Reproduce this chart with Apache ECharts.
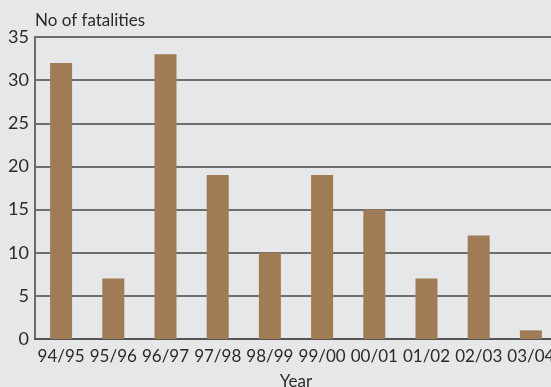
<!DOCTYPE html>
<html>
<head>
<meta charset="utf-8">
<script src="https://cdn.jsdelivr.net/npm/echarts@6/dist/echarts.min.js"></script>
<style>
  html, body { margin: 0; padding: 0; background: #e6e7e9; }
  #chart { width: 551px; height: 387px; }
</style>
</head>
<body>
<div id="chart"></div>
<script>
// Fatalities per financial year
const years = ['94/95', '95/96', '96/97', '97/98', '98/99', '99/00', '00/01', '01/02', '02/03', '03/04'];
const fatalities = [32, 7, 33, 19, 10, 19, 15, 7, 12, 1];
const yTicks = { min: 0, max: 35, interval: 5 };

const font = 'Lato, "Open Sans", sans-serif';
const textColor = '#2a2a2c';

const chart = echarts.init(document.getElementById('chart'));
chart.setOption({
  backgroundColor: '#e6e7e9',
  animation: false,
  grid: { left: 35, right: -6, top: 37, bottom: 48, containLabel: false, outerBoundsMode: 'none' },
  xAxis: {
    type: 'category',
    data: years,
    name: 'Year',
    nameLocation: 'middle',
    nameGap: 34,
    nameTextStyle: { fontFamily: font, fontSize: 17, color: textColor },
    axisLine: { lineStyle: { color: '#555', width: 2 } },
    axisTick: { show: false },
    axisLabel: { fontFamily: font, fontSize: 17, color: textColor, margin: 9, interval: 0 }
  },
  yAxis: {
    type: 'value',
    min: yTicks.min,
    max: yTicks.max,
    interval: yTicks.interval,
    name: 'No of fatalities',
    nameLocation: 'end',
    nameGap: 8,
    nameTextStyle: { fontFamily: font, fontSize: 17, color: textColor, align: 'left' },
    axisLine: { show: true, lineStyle: { color: '#6a6a6a', width: 2 } },
    axisTick: { show: false },
    splitLine: { lineStyle: { color: '#6e6e6e', width: 2 } },
    axisLabel: { fontFamily: font, fontSize: 18, color: textColor, margin: 6 }
  },
  series: [{
    type: 'bar',
    data: fatalities,
    barWidth: 22,
    itemStyle: { color: '#a07c56' }
  }]
});
</script>
</body>
</html>
